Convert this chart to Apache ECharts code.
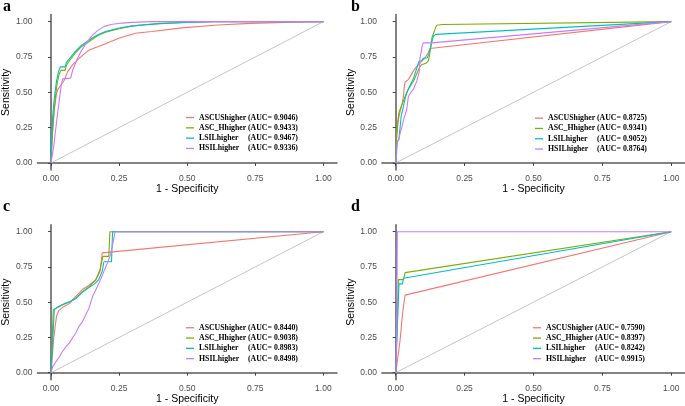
<!DOCTYPE html>
<html><head><meta charset="utf-8">
<script src="https://cdn.jsdelivr.net/npm/echarts@6/dist/echarts.min.js"></script>
<style>html,body{margin:0;padding:0;background:#fff}#c{width:685px;height:406px}</style>
</head><body><div id="c"></div>
<script>
// ---------- data ----------
const tickValues = [0, 0.25, 0.5, 0.75, 1];
const classNames = ['ASCUShigher', 'ASC_Hhigher', 'LSILhigher', 'HSILhigher'];
const aucA = ['0.9046', '0.9433', '0.9467', '0.9336'];
const aucB = ['0.8725', '0.9341', '0.9052', '0.8764'];
const aucC = ['0.8440', '0.9038', '0.8983', '0.8498'];
const aucD = ['0.7590', '0.8397', '0.8242', '0.9915'];
const diagonal = [[0, 0], [1, 1]];

// panel a  [1 - specificity, sensitivity]
const aASCUS = [[0,0],[0.005,0.2],[0.012,0.38],[0.02,0.49],[0.024,0.517],[0.036,0.55],[0.049,0.587],[0.061,0.646],[0.079,0.694],[0.103,0.74],[0.14,0.8],[0.188,0.835],[0.249,0.882],[0.309,0.918],[0.37,0.93],[0.49,0.958],[0.612,0.976],[0.733,0.988],[0.855,0.995],[1,1]];
const aASCH = [[0,0],[0.003,0.15],[0.008,0.3],[0.015,0.45],[0.022,0.56],[0.03,0.63],[0.036,0.655],[0.052,0.655],[0.056,0.69],[0.07,0.73],[0.09,0.78],[0.11,0.82],[0.14,0.86],[0.17,0.9],[0.2,0.925],[0.25,0.95],[0.3,0.97],[0.35,0.98],[0.4,0.988],[0.5,0.996],[0.6,1],[1,1]];
const aLSIL = [[0,0],[0.002,0.18],[0.006,0.33],[0.012,0.46],[0.02,0.58],[0.028,0.65],[0.034,0.68],[0.052,0.68],[0.056,0.71],[0.07,0.745],[0.09,0.79],[0.11,0.83],[0.14,0.87],[0.17,0.905],[0.2,0.93],[0.25,0.955],[0.3,0.97],[0.4,0.985],[0.5,0.995],[0.6,1],[1,1]];
const aHSIL = [[0,0],[0.004,0.05],[0.01,0.12],[0.02,0.29],[0.03,0.44],[0.038,0.56],[0.043,0.595],[0.072,0.6],[0.08,0.66],[0.095,0.73],[0.11,0.79],[0.13,0.85],[0.15,0.9],[0.17,0.935],[0.194,0.965],[0.22,0.98],[0.26,0.99],[0.3,0.995],[0.37,1],[1,1]];

// panel b
const bASCUS = [[0,0],[0.002,0.1],[0.004,0.2],[0.008,0.28],[0.012,0.33],[0.018,0.38],[0.024,0.42],[0.028,0.47],[0.032,0.55],[0.035,0.575],[0.046,0.59],[0.055,0.62],[0.064,0.65],[0.075,0.68],[0.085,0.7],[0.095,0.72],[0.105,0.74],[0.112,0.75],[0.118,0.78],[0.124,0.81],[0.13,0.82],[1,1]];
const bASCH = [[0,0],[0.001,0.1],[0.004,0.2],[0.008,0.3],[0.012,0.36],[0.02,0.4],[0.03,0.45],[0.04,0.5],[0.052,0.54],[0.065,0.58],[0.076,0.63],[0.085,0.67],[0.094,0.695],[0.11,0.705],[0.118,0.72],[0.122,0.75],[0.127,0.82],[0.132,0.89],[0.14,0.93],[0.145,0.96],[0.15,0.975],[0.17,0.98],[1,1]];
const bLSIL = [[0,0],[0.003,0.1],[0.006,0.15],[0.012,0.17],[0.016,0.25],[0.02,0.33],[0.028,0.4],[0.036,0.47],[0.045,0.52],[0.055,0.56],[0.065,0.6],[0.075,0.66],[0.08,0.69],[0.085,0.72],[0.095,0.725],[0.1,0.74],[0.115,0.745],[0.12,0.77],[0.125,0.8],[0.132,0.86],[0.137,0.9],[0.146,0.91],[1,1]];
const bHSIL = [[0,0],[0.003,0.05],[0.006,0.15],[0.012,0.17],[0.016,0.21],[0.022,0.25],[0.028,0.3],[0.034,0.34],[0.04,0.375],[0.046,0.47],[0.055,0.5],[0.064,0.52],[0.07,0.55],[0.076,0.575],[0.082,0.62],[0.086,0.65],[0.088,0.74],[0.092,0.78],[0.095,0.82],[0.1,0.85],[0.13,0.85],[1,1]];

// panel c
const cASCUS = [[0,0],[0.01,0.25],[0.02,0.4],[0.028,0.44],[0.048,0.47],[0.067,0.49],[0.09,0.54],[0.115,0.59],[0.14,0.62],[0.164,0.66],[0.18,0.72],[0.188,0.85],[1,1]];
const cASCH = [[0,0],[0.008,0.445],[0.02,0.46],[0.04,0.48],[0.067,0.5],[0.09,0.527],[0.115,0.575],[0.14,0.61],[0.164,0.657],[0.18,0.73],[0.19,0.825],[0.212,0.825],[0.216,1],[1,1]];
const cLSIL = [[0,0],[0.012,0.45],[0.03,0.47],[0.05,0.49],[0.07,0.505],[0.09,0.525],[0.115,0.57],[0.14,0.605],[0.16,0.63],[0.175,0.66],[0.188,0.72],[0.194,0.787],[0.222,0.787],[0.226,1],[1,1]];
const cHSIL = [[0,0],[0.006,0.043],[0.018,0.078],[0.03,0.11],[0.042,0.15],[0.055,0.185],[0.067,0.21],[0.078,0.245],[0.09,0.28],[0.103,0.33],[0.115,0.36],[0.127,0.41],[0.139,0.456],[0.152,0.54],[0.164,0.586],[0.176,0.634],[0.188,0.69],[0.206,0.775],[0.218,0.835],[0.227,0.917],[0.235,1],[1,1]];

// panel d
const dASCUS = [[0,0],[0.004,0.05],[0.016,0.23],[0.025,0.42],[0.034,0.55],[1,1]];
const dASCH = [[0,0],[0.006,0],[0.01,0.66],[0.028,0.66],[0.031,0.68],[0.034,0.71],[1,1]];
const dLSIL = [[0,0],[0.012,0.63],[0.025,0.63],[0.028,0.67],[1,1]];
const dHSIL = [[0,0],[0.002,0.06],[0.004,0.3],[0.006,1],[1,1]];

// ---------- layout / style ----------
const colors = ['#F8766D', '#7CAE00', '#00BFC4', '#C77CFF'];
const panels = [
  { label: 'a', auc: aucA, curves: [aASCUS, aASCH, aLSIL, aHSIL],
    grid: { left: 34.5, top: 14.6, width: 302.5, height: 155.4 }, legend: { left: 186, top: 112.4 }, lab: [3, -1] },
  { label: 'b', auc: aucB, curves: [bASCUS, bASCH, bLSIL, bHSIL],
    grid: { left: 381.9, top: 14.6, width: 303.6, height: 155.4 }, legend: { left: 535, top: 113 }, lab: [351, -1] },
  { label: 'c', auc: aucC, curves: [cASCUS, cASCH, cLSIL, cHSIL],
    grid: { left: 34.5, top: 224.65, width: 302.5, height: 155.1 }, legend: { left: 186, top: 322.6 }, lab: [3, 199] },
  { label: 'd', auc: aucD, curves: [dASCUS, dASCH, dLSIL, dHSIL],
    grid: { left: 381.9, top: 224.65, width: 303.6, height: 155.1 }, legend: { left: 533, top: 322.6 }, lab: [351, 199] }
];

const LH = 10.3;
const axisCommon = {
  type: 'value', min: -0.05, max: 1.05,
  splitLine: { show: false },
  axisLine: { show: true, lineStyle: { color: '#5a5a5a', width: 1.5 } },
  axisTick: { show: true, length: 3, customValues: tickValues, lineStyle: { color: '#444', width: 1 } },
  axisLabel: { customValues: tickValues, color: '#4d4d4d', fontSize: 8.5, fontFamily: 'Liberation Sans',
               formatter: v => Number(v).toFixed(2) },
  nameLocation: 'middle',
  nameTextStyle: { color: '#000', fontSize: 10.5, fontFamily: 'Liberation Sans' }
};

const option = { animation: false, backgroundColor: '#fff', grid: [], xAxis: [], yAxis: [], series: [], legend: [], graphic: [] };

panels.forEach((p, i) => {
  option.grid.push(Object.assign({ containLabel: false }, p.grid));
  option.xAxis.push(Object.assign({}, axisCommon, {
    gridIndex: i, name: '1 - Specificity', nameGap: 14,
    axisLabel: Object.assign({}, axisCommon.axisLabel, { margin: 4 })
  }));
  option.yAxis.push(Object.assign({}, axisCommon, {
    gridIndex: i, name: 'Sensitivity', nameGap: 23.5,
    axisLabel: Object.assign({}, axisCommon.axisLabel, { margin: 5 })
  }));
  option.series.push({
    type: 'line', xAxisIndex: i, yAxisIndex: i, data: diagonal, showSymbol: false, silent: true,
    lineStyle: { color: '#bebebe', width: 0.9 }, z: 1
  });
  const names = [];
  p.curves.forEach((curve, k) => {
    const nm = classNames[k] + ' (AUC= ' + p.auc[k] + ')';
    names.push(nm);
    option.series.push({
      name: nm, type: 'line', xAxisIndex: i, yAxisIndex: i, data: curve,
      showSymbol: false, symbol: 'none', color: colors[k],
      lineStyle: { color: colors[k], width: 1.1 }, z: 2 + k
    });
  });
  option.legend.push({
    data: names, orient: 'vertical', left: p.legend.left, top: p.legend.top,
    selectedMode: false, icon: 'rect', itemWidth: 8, itemHeight: 1.3, itemGap: 0, padding: 0,
    formatter: function (name) {
      const j = name.indexOf(' (AUC');
      return '{n|' + name.slice(0, j) + '}{v|' + name.slice(j + 1) + '}';
    },
    textStyle: {
      fontFamily: 'Liberation Serif', fontWeight: 'bold', fontSize: 7.8, color: '#000', lineHeight: LH,
      rich: {
        n: { width: 49, fontFamily: 'Liberation Serif', fontWeight: 'bold', fontSize: 7.8, color: '#000', lineHeight: LH },
        v: { fontFamily: 'Liberation Serif', fontWeight: 'bold', fontSize: 7.8, color: '#000', lineHeight: LH }
      }
    }
  });
  option.graphic.push({
    type: 'text', left: p.lab[0], top: p.lab[1],
    style: { text: p.label, font: 'bold 16px "Liberation Serif"', fill: '#000' }
  });
});

const chart = echarts.init(document.getElementById('c'), null, { renderer: 'canvas' });
chart.setOption(option);
</script>
</body></html>
